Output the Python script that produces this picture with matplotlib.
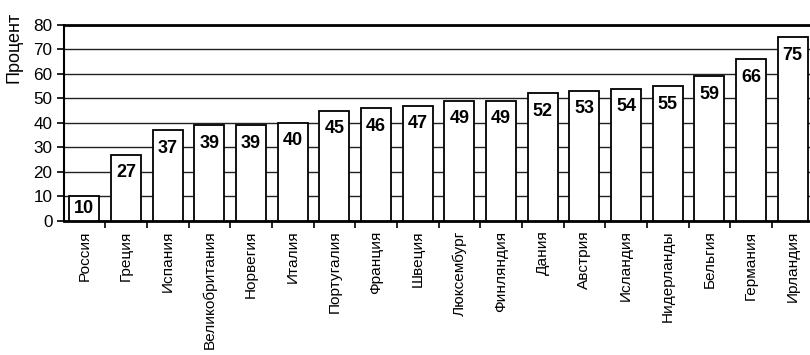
import matplotlib
matplotlib.use("Agg")
import matplotlib.pyplot as plt
from matplotlib.ticker import FixedLocator

plt.rcParams['font.family'] = ['Liberation Sans', 'DejaVu Sans']

countries = ["Россия", "Греция", "Испания", "Великобритания", "Норвегия", "Италия",
             "Португалия", "Франция", "Швеция", "Люксембург", "Финляндия", "Дания",
             "Австрия", "Исландия", "Нидерланды", "Бельгия", "Германия", "Ирландия"]
percent = [10, 27, 37, 39, 39, 40, 45, 46, 47, 49, 49, 52, 53, 54, 55, 59, 66, 75]
y_ticks = [0, 10, 20, 30, 40, 50, 60, 70, 80]

fig = plt.figure(figsize=(8.10, 3.55), dpi=100)
ax = fig.add_axes([0.0784, 0.3783, 0.926, 0.5513])

x = list(range(len(countries)))
ax.set_axisbelow(True)
ax.yaxis.grid(True, color='#222222', linewidth=1.0)
bars = ax.bar(x, percent, width=0.72, color='white', edgecolor='black', linewidth=1.3, zorder=3)

for xi, v in zip(x, percent):
    ax.text(xi, max(v - 7.3, v / 2), str(v), ha='center', va='center',
            fontsize=13, fontweight='bold', zorder=4)

ax.set_xlim(-0.5, len(countries) - 0.5)
ax.set_ylim(0, 80)
ax.set_yticks(y_ticks)
ax.tick_params(axis='y', labelsize=12.3, length=5, width=1.2, direction='out', pad=3)

ax.set_xticks(x)
ax.set_xticklabels(countries, rotation=90, fontsize=11.1)
ax.tick_params(axis='x', which='major', length=0, pad=7)
ax.xaxis.set_minor_locator(FixedLocator([i + 0.5 for i in range(len(countries) - 1)]))
ax.tick_params(axis='x', which='minor', length=5, width=1.2, direction='out')

for side in ['top', 'bottom']:
    ax.spines[side].set_linewidth(2.0)
ax.spines['left'].set_linewidth(1.5)
ax.spines['right'].set_visible(False)

ax.set_ylabel("Процент", fontsize=13)
ax.yaxis.set_label_coords(-0.055, 0.885)

fig.savefig("out.png", dpi=100)
